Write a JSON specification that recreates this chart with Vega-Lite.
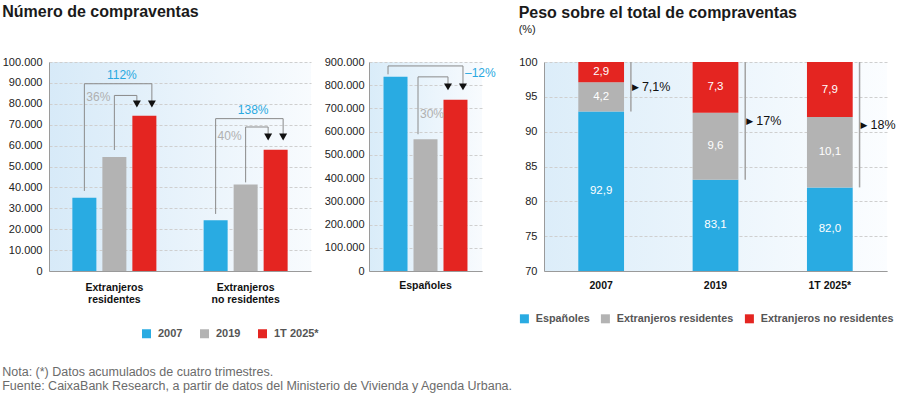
{
  "$schema": "https://vega.github.io/schema/vega-lite/v6.json",
  "padding": {"left": 2, "top": 4, "right": 0, "bottom": 0},
  "background": "white",
  "config": {
    "font": "Liberation Sans",
    "locale": {"number": {"decimal": ",", "thousands": ".", "grouping": [3], "currency": ["", " €"]}},
    "view": {"stroke": null},
    "axis": {"labelFont": "Liberation Sans", "labelFontSize": 11, "labelColor": "#222", "ticks": false, "domainColor": "#9a9a9a", "gridColor": "#cfcfcf", "gridDash": [3, 2], "title": null},
    "title": {"anchor": "start", "fontSize": 16, "fontWeight": "bold", "color": "#1a1a1a", "font": "Liberation Sans"}
  },
  "datasets": {
    "compraventas": [
      {"grupo": "Extranjeros residentes", "anio": "2007", "valor": 35000},
      {"grupo": "Extranjeros residentes", "anio": "2019", "valor": 54600},
      {"grupo": "Extranjeros residentes", "anio": "1T 2025*", "valor": 74300},
      {"grupo": "Extranjeros no residentes", "anio": "2007", "valor": 24300},
      {"grupo": "Extranjeros no residentes", "anio": "2019", "valor": 41400},
      {"grupo": "Extranjeros no residentes", "anio": "1T 2025*", "valor": 58000},
      {"grupo": "Españoles", "anio": "2007", "valor": 836000},
      {"grupo": "Españoles", "anio": "2019", "valor": 567000},
      {"grupo": "Españoles", "anio": "1T 2025*", "valor": 737000}
    ],
    "corchetes": [
      {"panel": "izq", "grupo": "Extranjeros residentes", "tramo": "112%", "ancla": "2007", "valor": 38300, "orden": 1},
      {"panel": "izq", "grupo": "Extranjeros residentes", "tramo": "112%", "ancla": "2007", "valor": 89600, "orden": 2},
      {"panel": "izq", "grupo": "Extranjeros residentes", "tramo": "112%", "ancla": "1T 2025*›", "valor": 89600, "orden": 3},
      {"panel": "izq", "grupo": "Extranjeros residentes", "tramo": "112%", "ancla": "1T 2025*›", "valor": 79900, "orden": 4},
      {"panel": "izq", "grupo": "Extranjeros residentes", "tramo": "36%", "ancla": "2019", "valor": 57900, "orden": 1},
      {"panel": "izq", "grupo": "Extranjeros residentes", "tramo": "36%", "ancla": "2019", "valor": 84000, "orden": 2},
      {"panel": "izq", "grupo": "Extranjeros residentes", "tramo": "36%", "ancla": "‹1T 2025*", "valor": 84000, "orden": 3},
      {"panel": "izq", "grupo": "Extranjeros residentes", "tramo": "36%", "ancla": "‹1T 2025*", "valor": 79900, "orden": 4},
      {"panel": "izq", "grupo": "Extranjeros no residentes", "tramo": "138%", "ancla": "2007", "valor": 27300, "orden": 1},
      {"panel": "izq", "grupo": "Extranjeros no residentes", "tramo": "138%", "ancla": "2007", "valor": 72900, "orden": 2},
      {"panel": "izq", "grupo": "Extranjeros no residentes", "tramo": "138%", "ancla": "1T 2025*›", "valor": 72900, "orden": 3},
      {"panel": "izq", "grupo": "Extranjeros no residentes", "tramo": "138%", "ancla": "1T 2025*›", "valor": 64100, "orden": 4},
      {"panel": "izq", "grupo": "Extranjeros no residentes", "tramo": "40%", "ancla": "2019", "valor": 42400, "orden": 1},
      {"panel": "izq", "grupo": "Extranjeros no residentes", "tramo": "40%", "ancla": "2019", "valor": 68900, "orden": 2},
      {"panel": "izq", "grupo": "Extranjeros no residentes", "tramo": "40%", "ancla": "‹1T 2025*", "valor": 68900, "orden": 3},
      {"panel": "izq", "grupo": "Extranjeros no residentes", "tramo": "40%", "ancla": "‹1T 2025*", "valor": 64100, "orden": 4},
      {"panel": "centro", "grupo": "Españoles", "tramo": "–12%", "ancla": "‹2007", "valor": 847000, "orden": 1},
      {"panel": "centro", "grupo": "Españoles", "tramo": "–12%", "ancla": "‹2007", "valor": 883000, "orden": 2},
      {"panel": "centro", "grupo": "Españoles", "tramo": "–12%", "ancla": "1T 2025*›", "valor": 883000, "orden": 3},
      {"panel": "centro", "grupo": "Españoles", "tramo": "–12%", "ancla": "1T 2025*›", "valor": 793000, "orden": 4},
      {"panel": "centro", "grupo": "Españoles", "tramo": "30%", "ancla": "‹2019", "valor": 589000, "orden": 1},
      {"panel": "centro", "grupo": "Españoles", "tramo": "30%", "ancla": "‹2019", "valor": 836000, "orden": 2},
      {"panel": "centro", "grupo": "Españoles", "tramo": "30%", "ancla": "‹1T 2025*", "valor": 836000, "orden": 3},
      {"panel": "centro", "grupo": "Españoles", "tramo": "30%", "ancla": "‹1T 2025*", "valor": 793000, "orden": 4}
    ],
    "etiquetas": [
      {"panel": "izq", "grupo": "Extranjeros residentes", "texto": "112%", "tipo": "total", "ancla": "2019›", "valor": 93900},
      {"panel": "izq", "grupo": "Extranjeros residentes", "texto": "36%", "tipo": "parcial", "ancla": "2019", "valor": 83300},
      {"panel": "izq", "grupo": "Extranjeros no residentes", "texto": "138%", "tipo": "total", "ancla": "2019›", "valor": 76900},
      {"panel": "izq", "grupo": "Extranjeros no residentes", "texto": "40%", "tipo": "parcial", "ancla": "2019", "valor": 64700},
      {"panel": "centro", "grupo": "Españoles", "texto": "–12%", "tipo": "total", "ancla": "1T 2025*›", "valor": 852000},
      {"panel": "centro", "grupo": "Españoles", "texto": "30%", "tipo": "parcial", "ancla": "‹2019", "valor": 678000}
    ],
    "pesos": [
      {"anio": "2007", "categoria": "Españoles", "valor": 92.9, "orden": 1},
      {"anio": "2007", "categoria": "Extranjeros residentes", "valor": 4.2, "orden": 2},
      {"anio": "2007", "categoria": "Extranjeros no residentes", "valor": 2.9, "orden": 3},
      {"anio": "2019", "categoria": "Españoles", "valor": 83.1, "orden": 1},
      {"anio": "2019", "categoria": "Extranjeros residentes", "valor": 9.6, "orden": 2},
      {"anio": "2019", "categoria": "Extranjeros no residentes", "valor": 7.3, "orden": 3},
      {"anio": "1T 2025*", "categoria": "Españoles", "valor": 82.0, "orden": 1},
      {"anio": "1T 2025*", "categoria": "Extranjeros residentes", "valor": 10.1, "orden": 2},
      {"anio": "1T 2025*", "categoria": "Extranjeros no residentes", "valor": 7.9, "orden": 3}
    ],
    "otros": [
      {"anio": "2007", "esp": 92.9, "texto": "7,1%"},
      {"anio": "2019", "esp": 83.1, "texto": "17%"},
      {"anio": "1T 2025*", "esp": 82.0, "texto": "18%"}
    ]
  },
  "title": {
    "text": ["Nota: (*) Datos acumulados de cuatro trimestres.", "Fuente: CaixaBank Research, a partir de datos del Ministerio de Vivienda y Agenda Urbana."],
    "orient": "bottom", "anchor": "start", "fontSize": 12.5, "fontWeight": "normal", "color": "#6b6b6b", "lineHeight": 14, "offset": 27
  },
  "resolve": {"scale": {"color": "independent"}, "legend": {"color": "independent"}},
  "spacing": 22,
  "hconcat": [
    {
      "spacing": 13,
      "resolve": {"scale": {"color": "shared"}, "legend": {"color": "shared"}},
      "hconcat": [
        {
          "width": 262,
          "height": 209,
          "title": {"text": "Número de compraventas", "offset": 36},
          "view": {"fill": {"gradient": "linear", "x1": 0, "y1": 0, "x2": 1, "y2": 0, "stops": [{"offset": 0, "color": "#d7eaf8"}, {"offset": 1, "color": "#f8fbfe"}]}},
          "encoding": {
            "x": {"field": "grupo", "type": "nominal", "sort": ["Extranjeros residentes", "Extranjeros no residentes"], "scale": {"paddingInner": 0.36, "paddingOuter": 0.178},
              "axis": {"labelExpr": "['Extranjeros', replace(datum.value, 'Extranjeros ', '')]", "labelFontWeight": "bold", "labelFontSize": 10.5, "labelColor": "#111", "labelPadding": 11, "labelLineHeight": 12.7, "labelAngle": 0, "grid": false}},
            "y": {"field": "valor", "type": "quantitative", "scale": {"domain": [0, 100000], "nice": false},
              "axis": {"values": [0, 10000, 20000, 30000, 40000, 50000, 60000, 70000, 80000, 90000, 100000], "format": ",.0f", "grid": true, "labelPadding": 7}}
          },
          "layer": [
            {
              "data": {"name": "compraventas"},
              "transform": [{"filter": "datum.grupo != 'Españoles'"}],
              "mark": {"type": "bar"},
              "encoding": {
                "xOffset": {"field": "anio", "type": "nominal", "sort": ["2007", "2019", "1T 2025*"], "scale": {"paddingInner": 0.2, "paddingOuter": 0}},
                "color": {"field": "anio", "type": "nominal", "sort": ["2007", "2019", "1T 2025*"], "scale": {"domain": ["2007", "2019", "1T 2025*"], "range": ["#29abe2", "#b3b3b3", "#e42521"]},
                  "legend": {"title": null, "orient": "none", "legendX": 92, "legendY": 266, "direction": "horizontal", "symbolType": "square", "symbolSize": 81, "symbolStrokeWidth": 0, "labelFontSize": 11, "labelFontWeight": "bold", "labelColor": "#555", "labelOffset": 6, "columnPadding": 16}}
              }
            },
            {
              "data": {"name": "corchetes"},
              "transform": [{"filter": "datum.panel == 'izq'"}],
              "mark": {"type": "line", "stroke": "#8a8a8a", "strokeWidth": 1},
              "encoding": {
                "xOffset": {"field": "ancla", "type": "nominal", "scale": {"type": "point", "domain": ["‹2007", "2007", "2007›", "·", "‹2019", "2019", "2019›", "··", "‹1T 2025*", "1T 2025*", "1T 2025*›"], "padding": 0.6}},
                "detail": {"field": "tramo"},
                "order": {"field": "orden", "type": "quantitative"}
              }
            },
            {
              "data": {"name": "corchetes"},
              "transform": [{"filter": "datum.panel == 'izq' && datum.orden == 4"}],
              "mark": {"type": "point", "shape": "triangle-down", "filled": true, "color": "#111", "size": 64, "opacity": 1},
              "encoding": {
                "xOffset": {"field": "ancla", "type": "nominal", "scale": {"type": "point", "domain": ["‹2007", "2007", "2007›", "·", "‹2019", "2019", "2019›", "··", "‹1T 2025*", "1T 2025*", "1T 2025*›"], "padding": 0.6}}
              }
            },
            {
              "data": {"name": "etiquetas"},
              "transform": [{"filter": "datum.panel == 'izq' && datum.tipo == 'total'"}],
              "mark": {"type": "text", "color": "#29a8e0", "fontSize": 12, "align": "center", "baseline": "middle"},
              "encoding": {
                "xOffset": {"field": "ancla", "type": "nominal", "scale": {"type": "point", "domain": ["‹2007", "2007", "2007›", "·", "‹2019", "2019", "2019›", "··", "‹1T 2025*", "1T 2025*", "1T 2025*›"], "padding": 0.6}},
                "text": {"field": "texto"}
              }
            },
            {
              "data": {"name": "etiquetas"},
              "transform": [{"filter": "datum.panel == 'izq' && datum.tipo == 'parcial'"}],
              "mark": {"type": "text", "color": "#b0b0b0", "fontSize": 12, "align": "right", "dx": -4, "baseline": "middle"},
              "encoding": {
                "xOffset": {"field": "ancla", "type": "nominal", "scale": {"type": "point", "domain": ["‹2007", "2007", "2007›", "·", "‹2019", "2019", "2019›", "··", "‹1T 2025*", "1T 2025*", "1T 2025*›"], "padding": 0.6}},
                "text": {"field": "texto"}
              }
            }
          ],
          "resolve": {"scale": {"xOffset": "independent"}}
        },
        {
          "width": 113,
          "height": 209,
          "view": {"fill": {"gradient": "linear", "x1": 0, "y1": 0, "x2": 1, "y2": 0, "stops": [{"offset": 0, "color": "#d9ecf9"}, {"offset": 1, "color": "#f8fbfe"}]}},
          "encoding": {
            "x": {"field": "grupo", "type": "nominal", "scale": {"paddingInner": 0, "paddingOuter": 0.173},
              "axis": {"labelFontWeight": "bold", "labelFontSize": 10.5, "labelColor": "#111", "labelPadding": 9, "labelAngle": 0, "grid": false}},
            "y": {"field": "valor", "type": "quantitative", "scale": {"domain": [0, 900000], "nice": false},
              "axis": {"values": [0, 100000, 200000, 300000, 400000, 500000, 600000, 700000, 800000, 900000], "format": ",.0f", "grid": true, "labelPadding": 5}}
          },
          "layer": [
            {
              "data": {"name": "compraventas"},
              "transform": [{"filter": "datum.grupo == 'Españoles'"}],
              "mark": {"type": "bar"},
              "encoding": {
                "xOffset": {"field": "anio", "type": "nominal", "sort": ["2007", "2019", "1T 2025*"], "scale": {"paddingInner": 0.2, "paddingOuter": 0}},
                "color": {"field": "anio", "type": "nominal", "sort": ["2007", "2019", "1T 2025*"], "scale": {"domain": ["2007", "2019", "1T 2025*"], "range": ["#29abe2", "#b3b3b3", "#e42521"]},
                  "legend": {"title": null, "orient": "none", "legendX": 92, "legendY": 266, "direction": "horizontal", "symbolType": "square", "symbolSize": 81, "symbolStrokeWidth": 0, "labelFontSize": 11, "labelFontWeight": "bold", "labelColor": "#555", "labelOffset": 6, "columnPadding": 16}}
              }
            },
            {
              "data": {"name": "corchetes"},
              "transform": [{"filter": "datum.panel == 'centro'"}],
              "mark": {"type": "line", "stroke": "#8a8a8a", "strokeWidth": 1},
              "encoding": {
                "xOffset": {"field": "ancla", "type": "nominal", "scale": {"type": "point", "domain": ["‹2007", "2007", "2007›", "·", "‹2019", "2019", "2019›", "··", "‹1T 2025*", "1T 2025*", "1T 2025*›"], "padding": 0.6}},
                "detail": {"field": "tramo"},
                "order": {"field": "orden", "type": "quantitative"}
              }
            },
            {
              "data": {"name": "corchetes"},
              "transform": [{"filter": "datum.panel == 'centro' && datum.orden == 4"}],
              "mark": {"type": "point", "shape": "triangle-down", "filled": true, "color": "#111", "size": 64, "opacity": 1},
              "encoding": {
                "xOffset": {"field": "ancla", "type": "nominal", "scale": {"type": "point", "domain": ["‹2007", "2007", "2007›", "·", "‹2019", "2019", "2019›", "··", "‹1T 2025*", "1T 2025*", "1T 2025*›"], "padding": 0.6}}
              }
            },
            {
              "data": {"name": "etiquetas"},
              "transform": [{"filter": "datum.panel == 'centro' && datum.tipo == 'total'"}],
              "mark": {"type": "text", "color": "#29a8e0", "fontSize": 12, "align": "left", "dx": 2, "baseline": "middle"},
              "encoding": {
                "xOffset": {"field": "ancla", "type": "nominal", "scale": {"type": "point", "domain": ["‹2007", "2007", "2007›", "·", "‹2019", "2019", "2019›", "··", "‹1T 2025*", "1T 2025*", "1T 2025*›"], "padding": 0.6}},
                "text": {"field": "texto"}
              }
            },
            {
              "data": {"name": "etiquetas"},
              "transform": [{"filter": "datum.panel == 'centro' && datum.tipo == 'parcial'"}],
              "mark": {"type": "text", "color": "#b0b0b0", "fontSize": 12, "align": "left", "dx": 2, "baseline": "middle"},
              "encoding": {
                "xOffset": {"field": "ancla", "type": "nominal", "scale": {"type": "point", "domain": ["‹2007", "2007", "2007›", "·", "‹2019", "2019", "2019›", "··", "‹1T 2025*", "1T 2025*", "1T 2025*›"], "padding": 0.6}},
                "text": {"field": "texto"}
              }
            }
          ],
          "resolve": {"scale": {"xOffset": "independent"}}
        }
      ]
    },
    {
      "width": 343,
      "height": 209,
      "title": {"text": "Peso sobre el total de compraventas", "subtitle": "(%)", "offset": 21, "subtitleFontSize": 11, "subtitleColor": "#222", "subtitlePadding": 3, "subtitleFont": "Liberation Sans"},
      "view": {"fill": {"gradient": "linear", "x1": 0, "y1": 0, "x2": 1, "y2": 0, "stops": [{"offset": 0, "color": "#dcedf9"}, {"offset": 1, "color": "#fbfdff"}]}},
      "encoding": {
        "x": {"field": "anio", "type": "nominal", "sort": ["2007", "2019", "1T 2025*"], "scale": {"paddingInner": 0.6, "paddingOuter": 0.3},
          "axis": {"labelFontWeight": "bold", "labelFontSize": 10.5, "labelColor": "#111", "labelPadding": 9, "labelAngle": 0, "grid": false}}
      },
      "layer": [
        {
          "data": {"name": "pesos"},
          "transform": [
            {"stack": "valor", "groupby": ["anio"], "sort": [{"field": "orden", "order": "ascending"}], "as": ["v0", "v1"]}
          ],
          "mark": {"type": "bar", "clip": true},
          "encoding": {
            "y": {"field": "v0", "type": "quantitative", "scale": {"domain": [70, 100], "nice": false, "zero": false},
              "axis": {"values": [70, 75, 80, 85, 90, 95, 100], "grid": true, "labelPadding": 7}},
            "y2": {"field": "v1"},
            "color": {"field": "categoria", "type": "nominal", "scale": {"domain": ["Españoles", "Extranjeros residentes", "Extranjeros no residentes"], "range": ["#29abe2", "#b3b3b3", "#e42521"]},
              "legend": {"title": null, "orient": "none", "legendX": -25, "legendY": 251, "direction": "horizontal", "symbolType": "square", "symbolSize": 81, "symbolStrokeWidth": 0, "labelFontSize": 10.8, "labelFontWeight": "bold", "labelColor": "#555", "labelOffset": 6, "columnPadding": 10}}
          }
        },
        {
          "data": {"name": "pesos"},
          "transform": [
            {"stack": "valor", "groupby": ["anio"], "sort": [{"field": "orden", "order": "ascending"}], "as": ["v0", "v1"]},
            {"calculate": "(max(datum.v0, 70) + datum.v1) / 2", "as": "medio"}
          ],
          "mark": {"type": "text", "color": "white", "fontSize": 11.5, "baseline": "middle"},
          "encoding": {
            "y": {"field": "medio", "type": "quantitative", "scale": {"domain": [70, 100], "nice": false, "zero": false},
              "axis": {"values": [70, 75, 80, 85, 90, 95, 100], "grid": true, "labelPadding": 7}},
            "text": {"field": "valor", "type": "quantitative", "format": ".1f"}
          }
        },
        {
          "data": {"name": "otros"},
          "mark": {"type": "rule", "color": "#a3a3a3", "strokeWidth": 1.5},
          "encoding": {
            "x": {"field": "anio", "type": "nominal", "sort": ["2007", "2019", "1T 2025*"], "bandPosition": 1.15},
            "y": {"field": "esp", "type": "quantitative", "scale": {"domain": [70, 100], "nice": false, "zero": false},
              "axis": {"values": [70, 75, 80, 85, 90, 95, 100], "grid": true, "labelPadding": 7}},
            "y2": {"datum": 100}
          }
        },
        {
          "data": {"name": "otros"},
          "transform": [{"calculate": "(datum.esp + 100) / 2", "as": "medio"}],
          "mark": {"type": "text", "text": "▶", "font": "DejaVu Sans", "fontSize": 9, "align": "left", "dx": 1, "baseline": "middle", "color": "#111"},
          "encoding": {
            "x": {"field": "anio", "type": "nominal", "sort": ["2007", "2019", "1T 2025*"], "bandPosition": 1.15},
            "y": {"field": "medio", "type": "quantitative", "scale": {"domain": [70, 100], "nice": false, "zero": false},
              "axis": {"values": [70, 75, 80, 85, 90, 95, 100], "grid": true, "labelPadding": 7}}
          }
        },
        {
          "data": {"name": "otros"},
          "transform": [{"calculate": "(datum.esp + 100) / 2", "as": "medio"}],
          "mark": {"type": "text", "fontSize": 12.5, "align": "left", "dx": 11, "baseline": "middle", "color": "#111"},
          "encoding": {
            "x": {"field": "anio", "type": "nominal", "sort": ["2007", "2019", "1T 2025*"], "bandPosition": 1.15},
            "y": {"field": "medio", "type": "quantitative", "scale": {"domain": [70, 100], "nice": false, "zero": false},
              "axis": {"values": [70, 75, 80, 85, 90, 95, 100], "grid": true, "labelPadding": 7}},
            "text": {"field": "texto"}
          }
        }
      ]
    }
  ]
}
